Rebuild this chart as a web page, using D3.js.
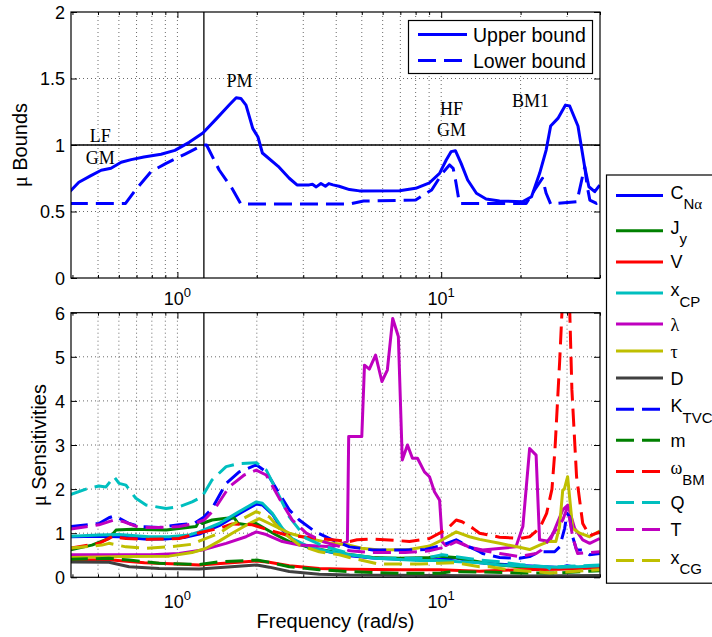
<!DOCTYPE html>
<html>
<head>
<meta charset="utf-8">
<script src="https://cdn.jsdelivr.net/npm/d3@7"></script>
<style>
  body { margin: 0; background: #fff; }
  svg { display: block; }
  text { font-family: "Liberation Sans", Arial, Helvetica, sans-serif; fill: #000; }
</style>
</head>
<body>
<div id="chart"></div>
<script>
// ---------- data ----------
const freqDomain = [0.395, 40];          // rad/s, log axis
const boundsDomain = [0, 2];
const sensDomain = [0, 6];
const boundsTicks = [0, 0.5, 1, 1.5, 2];
const sensTicks = [0, 1, 2, 3, 4, 5, 6];
const decadeTicks = [1, 10];
const crossoverFreq = 1.26;               // vertical reference line

// mu bounds: [frequency, value]
const upperBound = [
  [0.391,0.65],[0.423,0.72],[0.47,0.77],[0.514,0.81],[0.56,0.825],[0.612,0.87],[0.668,0.89],
  [0.746,0.91],[0.867,0.93],[0.978,0.96],[1.108,1.02],[1.249,1.09],[1.41,1.2],[1.571,1.3],
  [1.67,1.355],[1.74,1.35],[1.82,1.3],[1.93,1.125],[2.02,1.06],[2.1,0.94],[2.41,0.84],
  [2.655,0.75],[2.84,0.70],[3.16,0.70],[3.25,0.705],[3.36,0.685],[3.5,0.71],[3.64,0.69],
  [3.75,0.71],[3.89,0.70],[4.1,0.69],[4.49,0.665],[4.9,0.655],[6.95,0.656],[8.0,0.674],
  [9.03,0.716],[9.86,0.787],[10.45,0.887],[10.9,0.95],[11.32,0.957],[11.9,0.862],[12.6,0.737],
  [13.6,0.637],[14.8,0.594],[16.65,0.579],[20.4,0.574],[22.0,0.611],[23.62,0.787],[25.0,0.962],
  [26.0,1.143],[27.7,1.2],[29.6,1.3],[30.7,1.293],[33.0,1.143],[34.98,0.837],[36.3,0.686],
  [38.2,0.649],[39.9,0.699]
];
const lowerBound = [
  [0.391,0.561],[0.636,0.561],[0.694,0.662],[0.794,0.80],[0.906,0.862],[1.07,0.932],[1.249,1.0],
  [1.29,1.0],[1.44,0.812],[1.61,0.674],[1.74,0.556],[4.49,0.556],[5.08,0.579],[8.0,0.586],
  [9.2,0.662],[10.1,0.787],[10.75,0.85],[11.1,0.825],[11.36,0.724],[11.73,0.561],[21.0,0.561],
  [22.6,0.662],[24.2,0.75],[25.0,0.637],[26.0,0.556],[32.7,0.574],[34.1,0.737],[35.0,0.837],
  [35.8,0.686],[36.6,0.586],[38.8,0.561],[39.9,0.59]
];
const boundLabels = ["Upper bound", "Lower bound"];

// mu sensitivities: [frequency, value]
const sensCNa = [
  [0.391,0.92],[0.5,0.93],[0.6,0.92],[0.75,0.87],[0.9,0.87],[1.06,0.9],[1.21,0.98],[1.44,1.17],
  [1.72,1.45],[1.99,1.66],[2.1,1.64],[2.3,1.42],[2.5,1.07],[2.73,0.86],[3.16,0.67],[3.87,0.56],
  [4.49,0.49],[5.5,0.44],[7.0,0.41],[9.0,0.39],[10.3,0.41],[11.3,0.44],[12.2,0.40],[14,0.33],
  [16,0.30],[20,0.27],[25,0.24],[28,0.22],[30,0.26],[33,0.22],[39.9,0.24]
];
const sensJy = [
  [0.391,0.62],[0.474,0.73],[0.55,0.88],[0.585,1.07],[0.673,1.09],[0.906,1.07],[1.177,1.15],
  [1.209,1.28],[1.241,1.22],[1.354,1.30],[1.53,1.34],[1.641,1.35],[1.70,1.22],[1.823,1.19],
  [1.99,1.22],[2.37,0.96],[2.655,0.81],[3.16,0.68],[3.87,0.58],[4.49,0.52],[5.5,0.45],
  [6.95,0.43],[9.0,0.45],[9.86,0.48],[11.3,0.45],[13.98,0.35],[15.25,0.30],[19.83,0.24],
  [28.1,0.20],[39.9,0.22]
];
const sensV = [
  [0.391,0.39],[0.55,0.40],[0.75,0.33],[1.0,0.30],[1.209,0.28],[1.6,0.33],[2.0,0.37],[2.23,0.34],
  [2.655,0.26],[3.45,0.20],[4.49,0.18],[6.95,0.17],[9.86,0.17],[13.98,0.14],[19.83,0.17],
  [28.1,0.18],[39.9,0.22]
];
const sensXcp = [
  [0.391,0.93],[0.504,0.96],[0.6,0.97],[0.78,0.92],[0.93,0.92],[1.108,0.96],[1.209,1.03],
  [1.44,1.22],[1.715,1.49],[1.99,1.71],[2.1,1.68],[2.29,1.45],[2.5,1.11],[2.72,0.88],[3.16,0.69],
  [3.77,0.58],[4.49,0.51],[5.6,0.43],[8.3,0.38],[9.86,0.38],[11.7,0.35],[14,0.33],[16.65,0.28],
  [23.6,0.24],[28.1,0.23],[33,0.24],[39.9,0.26]
];
const sensLambda = [
  [0.391,0.51],[0.8,0.51],[1.015,0.54],[1.24,0.62],[1.53,0.77],[1.82,0.92],[1.99,1.03],
  [2.17,0.97],[2.5,0.81],[2.9,0.73],[3.87,0.69],[4.41,0.81],[4.46,3.19],[5.0,3.19],[5.12,4.81],
  [5.34,4.72],[5.64,5.04],[5.96,4.44],[6.25,4.70],[6.55,5.87],[6.88,5.46],[7.12,2.66],[7.45,3.0],
  [7.78,2.70],[8.13,2.70],[8.64,2.39],[9.03,2.28],[9.43,1.94],[9.86,1.75],[10.1,0.8],[10.4,0.72],
  [11.4,0.84],[12.8,0.68],[14.35,0.62],[19.2,0.69],[20.4,1.15],[21.64,2.92],[22.9,2.77],
  [23.6,0.85],[25.78,0.81],[28.9,1.53],[30.2,1.64],[32.06,1.11],[34.4,0.85],[36.56,0.77],
  [39.9,0.88]
];
const sensTau = [
  [0.391,0.45],[0.638,0.47],[0.93,0.48],[1.137,0.56],[1.286,0.66],[1.44,0.82],[1.613,1.0],
  [1.872,1.22],[2.043,1.33],[2.23,1.22],[2.655,1.0],[3.16,0.88],[3.77,0.78],[4.49,0.73],
  [5.0,0.66],[5.83,0.62],[7.58,0.63],[9.03,0.71],[10.1,0.85],[11.4,1.03],[12.8,0.92],
  [13.98,0.86],[16.65,0.77],[19.83,0.68],[21.64,0.63],[23.62,0.73],[25.78,0.82],[27.2,0.81],
  [28.1,1.15],[28.9,1.98],[29.3,2.0],[30.15,2.28],[31.5,1.11],[33.5,1.0],[36.56,0.92],[39.9,1.05]
];
const sensD = [
  [0.391,0.35],[0.55,0.34],[0.656,0.24],[0.852,0.20],[1.209,0.19],[1.6,0.24],[2.0,0.28],
  [2.23,0.23],[2.655,0.13],[3.45,0.07],[4.49,0.05],[10,0.04],[20,0.03],[39.9,0.04]
];
const sensKtvc = [
  [0.391,1.15],[0.504,1.22],[0.55,1.35],[0.575,1.39],[0.601,1.34],[0.656,1.22],[0.716,1.15],
  [0.852,1.13],[1.015,1.19],[1.157,1.22],[1.263,1.37],[1.354,1.56],[1.53,2.13],[1.715,2.39],
  [1.99,2.55],[2.17,2.39],[2.433,1.9],[2.655,1.53],[2.897,1.30],[3.335,1.03],[3.869,0.85],
  [4.487,0.69],[5.5,0.62],[7.3,0.62],[8.7,0.63],[9.86,0.71],[11.4,0.85],[12.8,0.69],[13.98,0.58],
  [14.35,0.54],[16.65,0.45],[19.83,0.43],[21.64,0.47],[23.62,0.58],[26.93,0.58],[28.13,0.69],
  [29.38,1.11],[30.0,1.45],[30.7,1.37],[31.5,0.92],[32.6,0.62],[34.2,0.62],[36.56,0.51],[39.9,0.54]
];
const sensM = [
  [0.391,0.41],[0.55,0.43],[0.656,0.39],[0.852,0.32],[1.209,0.29],[1.44,0.35],[2.0,0.39],
  [2.23,0.34],[2.655,0.24],[3.45,0.17],[4.49,0.13],[6.95,0.09],[9.86,0.09],[11.0,0.13],
  [13.98,0.12],[19.83,0.10],[28.1,0.10],[39.9,0.15]
];
const sensOmegaBM = [
  [0.391,0.66],[0.504,0.77],[0.565,0.92],[0.638,0.88],[0.781,0.86],[1.015,0.88],[1.209,1.01],
  [1.44,1.11],[1.613,1.21],[1.922,1.19],[2.172,1.09],[2.587,0.96],[3.079,0.91],[3.869,0.85],
  [4.487,0.81],[4.8,0.85],[5.49,0.87],[6.95,0.83],[7.58,0.81],[9.03,0.88],[9.86,1.0],[10.75,1.15],
  [11.4,1.30],[12.0,1.26],[13.2,1.11],[13.98,1.0],[16.65,0.91],[19.83,0.88],[21.64,0.92],
  [23.62,1.11],[25.1,1.45],[26.3,2.0],[27.0,2.9],[28.13,4.9],[29.0,6.6],[29.8,7.2],[30.6,6.4],
  [31.3,4.25],[32.6,2.28],[34.4,1.22],[36.56,0.94],[39.9,1.03]
];
const sensQ = [
  [0.391,1.87],[0.45,2.0],[0.504,2.07],[0.536,2.05],[0.575,2.28],[0.601,2.13],[0.638,2.09],
  [0.696,1.79],[0.76,1.64],[0.906,1.56],[1.015,1.60],[1.137,1.71],[1.241,1.83],[1.354,2.21],
  [1.53,2.51],[1.715,2.58],[1.989,2.60],[2.172,2.43],[2.37,1.98],[2.655,1.37],[3.08,0.88],
  [3.64,0.69],[4.487,0.54],[4.6,0.51],[5.83,0.43],[8.6,0.43],[10.1,0.51],[11.3,0.47],
  [13.98,0.39],[16.65,0.35],[19.83,0.29],[25.1,0.24],[26.2,0.17],[27.2,0.24],[33.5,0.26],[39.9,0.28]
];
const sensT = [
  [0.391,1.09],[0.504,1.19],[0.575,1.30],[0.627,1.26],[0.716,1.13],[0.852,1.13],[1.015,1.15],
  [1.157,1.22],[1.263,1.30],[1.378,1.53],[1.571,2.05],[1.792,2.32],[1.99,2.43],[2.17,2.32],
  [2.433,1.79],[2.726,1.30],[3.08,1.0],[3.56,0.81],[4.11,0.70],[4.5,0.60],[5.5,0.56],[7.3,0.56],
  [9.0,0.60],[10.4,0.69],[11.4,0.81],[12.8,0.68],[13.98,0.62],[16.65,0.54],[19.83,0.47],
  [22.9,0.54],[24.0,0.62],[28.9,1.30],[30.15,1.6],[31.5,0.92],[32.9,0.54],[36.56,0.56],[39.9,0.58]
];
const sensXcg = [
  [0.391,0.66],[0.518,0.73],[0.55,0.77],[0.638,0.69],[0.76,0.66],[0.93,0.69],[1.137,0.75],
  [1.209,0.82],[1.44,1.0],[1.64,1.22],[1.99,1.49],[2.23,1.37],[2.5,1.03],[2.9,0.73],[3.45,0.58],
  [4.11,0.51],[4.49,0.45],[5.8,0.30],[8.3,0.30],[9.86,0.32],[11.3,0.33],[13.98,0.24],[15.25,0.24],
  [18.17,0.17],[25.78,0.10],[39.9,0.17]
];

// legend labels: [main text, subscript]
const sensLabels = [
  ["C","N\u03b1"],["J","y"],["V",""],["x","CP"],["\u03bb",""],["\u03c4",""],["D",""],
  ["K","TVC"],["m",""],["\u03c9","BM"],["Q",""],["T",""],["x","CG"]
];
const sensValues = [sensCNa, sensJy, sensV, sensXcp, sensLambda, sensTau, sensD,
                    sensKtvc, sensM, sensOmegaBM, sensQ, sensT, sensXcg];

// annotations on the bounds panel: [text lines, frequency, value of first baseline]
const boundNotes = [
  [["LF","GM"], 0.51, 1.02],
  [["PM"], 1.72, 1.436],
  [["HF","GM"], 10.95, 1.226],
  [["BM1"], 21.8, 1.286]
];

// ---------- styles ----------
const colorCycle = ["#0000ff", "#008000", "#ff0000", "#00bfbf", "#bf00bf", "#bfbf00", "#404040"];
const seriesColor = i => colorCycle[i % 7];
const seriesDashed = i => i >= 7;
const dashPattern = "18,8";
const lineW = 3;
const serif = '"Liberation Serif", "Times New Roman", serif';

// ---------- layout ----------
const W = 712, H = 637;
const L = 71, R = 600;
const topArea = { top: 12, bottom: 278 };
const botArea = { top: 312.7, bottom: 577.3 };

const x = d3.scaleLog().domain(freqDomain).range([L, R]);
const yTop = d3.scaleLinear().domain(boundsDomain).range([topArea.bottom, topArea.top]);
const yBot = d3.scaleLinear().domain(sensDomain).range([botArea.bottom, botArea.top]);

const svg = d3.select("#chart").append("svg")
  .attr("width", W).attr("height", H).attr("viewBox", `0 0 ${W} ${H}`);
svg.append("rect").attr("width", W).attr("height", H).attr("fill", "#fff");

const defs = svg.append("defs");
[["clipTop", topArea], ["clipBot", botArea]].forEach(([id, a]) => {
  defs.append("clipPath").attr("id", id).append("rect")
    .attr("x", L).attr("y", a.top).attr("width", R - L).attr("height", a.bottom - a.top);
});

// text with greek characters set in serif, optional subscript
function addRuns(textSel, str, size, dy) {
  if (!str) return;
  const runs = str.match(/[\u0370-\u03FF]+|[^\u0370-\u03FF]+/g);
  runs.forEach((r, i) => {
    const t = textSel.append("tspan").text(r).attr("font-size", size);
    if (/[\u0370-\u03FF]/.test(r)) t.style("font-family", serif);
    if (i === 0 && dy) t.attr("dy", dy);
  });
}

function drawPanel(area, y, yTicks) {
  const g = svg.append("g");
  const xTicks = x.ticks();

  // dotted grid
  g.append("g").selectAll("line").data(xTicks.filter(t => x(t) > L + 2 && x(t) < R - 1)).join("line")
    .attr("x1", d => x(d)).attr("x2", d => x(d))
    .attr("y1", area.top).attr("y2", area.bottom)
    .attr("stroke", "#444").attr("stroke-width", 0.8).attr("stroke-dasharray", "1,3");
  g.append("g").selectAll("line").data(yTicks.slice(1, -1)).join("line")
    .attr("x1", L).attr("x2", R).attr("y1", d => y(d)).attr("y2", d => y(d))
    .attr("stroke", "#444").attr("stroke-width", 0.8).attr("stroke-dasharray", "1,3");

  // crossover frequency marker
  g.append("line")
    .attr("x1", x(crossoverFreq)).attr("x2", x(crossoverFreq))
    .attr("y1", area.top).attr("y2", area.bottom)
    .attr("stroke", "#000").attr("stroke-width", 1.3);

  // axes: inward ticks on all four sides
  const major = decadeTicks;
  const minor = xTicks.filter(t => !major.includes(t));
  const addAxis = (axis, tx, ty) => {
    const a = g.append("g").attr("transform", `translate(${tx},${ty})`).call(axis);
    a.select(".domain").remove();
    a.selectAll("line").attr("stroke", "#000");
    return a;
  };
  addAxis(d3.axisBottom(x).tickValues(minor).tickSize(-3).tickFormat(""), 0, area.bottom);
  addAxis(d3.axisTop(x).tickValues(minor).tickSize(-3).tickFormat(""), 0, area.top);
  addAxis(d3.axisBottom(x).tickValues(major).tickSize(-6).tickFormat(""), 0, area.bottom);
  addAxis(d3.axisTop(x).tickValues(major).tickSize(-6).tickFormat(""), 0, area.top);
  addAxis(d3.axisRight(y).tickValues(yTicks).tickSize(-6).tickFormat(""), R, 0);
  const yl = addAxis(d3.axisLeft(y).tickValues(yTicks).tickSize(-6).tickPadding(6).tickFormat(d3.format("")), L, 0);
  yl.selectAll("text").attr("font-size", 18).attr("fill", "#000").attr("dy", "0.36em");

  // decade labels 10^n
  const xl = g.append("g").selectAll("text").data(major).join("text")
    .attr("x", d => x(d)).attr("y", area.bottom + (area === topArea ? 27 : 31))
    .attr("text-anchor", "middle").attr("font-size", 18);
  xl.each(function (d) {
    const t = d3.select(this);
    t.append("tspan").text("10");
    t.append("tspan").text(Math.round(Math.log10(d))).attr("font-size", 13).attr("dy", -8);
  });

  return g;
}

const lineTop = d3.line().x(d => x(d[0])).y(d => yTop(d[1]));
const lineBot = d3.line().x(d => x(d[0])).y(d => yBot(d[1]));

// ---------- bounds panel ----------
const gTop = drawPanel(topArea, yTop, boundsTicks);
gTop.append("line").attr("x1", L).attr("x2", R).attr("y1", yTop(1)).attr("y2", yTop(1))
  .attr("stroke", "#000").attr("stroke-width", 1.3);

const topData = gTop.append("g").attr("clip-path", "url(#clipTop)");
[upperBound, lowerBound].forEach((d, i) => {
  topData.append("path").datum(d).attr("d", lineTop)
    .attr("fill", "none").attr("stroke", "#0000ff").attr("stroke-width", lineW)
    .attr("stroke-linejoin", "round")
    .attr("stroke-dasharray", i === 1 ? dashPattern : null);
});

boundNotes.forEach(([lines, f, v]) => {
  const t = gTop.append("text").style("font-family", serif).attr("font-size", 18)
    .attr("text-anchor", "middle");
  lines.forEach((s, i) => {
    t.append("tspan").attr("x", x(f)).attr("y", yTop(v) + i * 21.5).text(s);
  });
});

gTop.append("rect").attr("x", L).attr("y", topArea.top)
  .attr("width", R - L).attr("height", topArea.bottom - topArea.top)
  .attr("fill", "none").attr("stroke", "#000").attr("stroke-width", 1.2);

// bounds legend
const lgTop = svg.append("g");
lgTop.append("rect").attr("x", 408.5).attr("y", 20.5).attr("width", 184).attr("height", 53)
  .attr("fill", "#fff").attr("stroke", "#000").attr("stroke-width", 1.2);
boundLabels.forEach((lab, i) => {
  const cy = 34.5 + i * 26;
  lgTop.append("line").attr("x1", 418).attr("x2", 467).attr("y1", cy).attr("y2", cy)
    .attr("stroke", "#0000ff").attr("stroke-width", lineW)
    .attr("stroke-dasharray", i === 1 ? dashPattern : null);
  lgTop.append("text").attr("x", 473).attr("y", cy + 7).attr("font-size", 19.5).text(lab);
});

svg.append("text").attr("transform", `translate(27,${(topArea.top + topArea.bottom) / 2}) rotate(-90)`)
  .attr("text-anchor", "middle").attr("font-size", 20)
  .call(t => { addRuns(t, "\u03bc", 20); t.append("tspan").text(" Bounds"); });

// ---------- sensitivities panel ----------
const gBot = drawPanel(botArea, yBot, sensTicks);
const botData = gBot.append("g").attr("clip-path", "url(#clipBot)");
sensValues.forEach((d, i) => {
  botData.append("path").datum(d).attr("d", lineBot)
    .attr("fill", "none").attr("stroke", seriesColor(i)).attr("stroke-width", lineW)
    .attr("stroke-linejoin", "round")
    .attr("stroke-dasharray", seriesDashed(i) ? dashPattern : null);
});
gBot.append("rect").attr("x", L).attr("y", botArea.top)
  .attr("width", R - L).attr("height", botArea.bottom - botArea.top)
  .attr("fill", "none").attr("stroke", "#000").attr("stroke-width", 1.2);

svg.append("text").attr("transform", `translate(46,${(botArea.top + botArea.bottom) / 2}) rotate(-90)`)
  .attr("text-anchor", "middle").attr("font-size", 20)
  .call(t => { addRuns(t, "\u03bc", 20); t.append("tspan").text(" Sensitivities"); });

svg.append("text").attr("x", (L + R) / 2).attr("y", 628).attr("text-anchor", "middle")
  .attr("font-size", 20).text("Frequency (rad/s)");

// sensitivities legend: rows with subscripts are taller
const lgBot = svg.append("g");
const rowH = lab => lab[1] ? 35.2 : 27;
const lgTopY = 175, lgPad = 3;
const lgHeight = d3.sum(sensLabels, rowH) + 2 * lgPad + 2;
lgBot.append("rect").attr("x", 606.5).attr("y", lgTopY).attr("width", 120).attr("height", lgHeight)
  .attr("fill", "#fff").attr("stroke", "#000").attr("stroke-width", 1.2);
let acc = lgTopY + lgPad;
sensLabels.forEach((lab, i) => {
  const h = rowH(lab);
  const cy = acc + h / 2;
  acc += h;
  lgBot.append("line").attr("x1", 616).attr("x2", 663).attr("y1", cy).attr("y2", cy)
    .attr("stroke", seriesColor(i)).attr("stroke-width", lineW)
    .attr("stroke-dasharray", seriesDashed(i) ? dashPattern : null);
  const t = lgBot.append("text").attr("x", 670.5).attr("y", lab[1] ? cy + 3 : cy + 6.5);
  addRuns(t, lab[0], 18);
  addRuns(t, lab[1], 15, 10.5);
});
</script>
</body>
</html>
